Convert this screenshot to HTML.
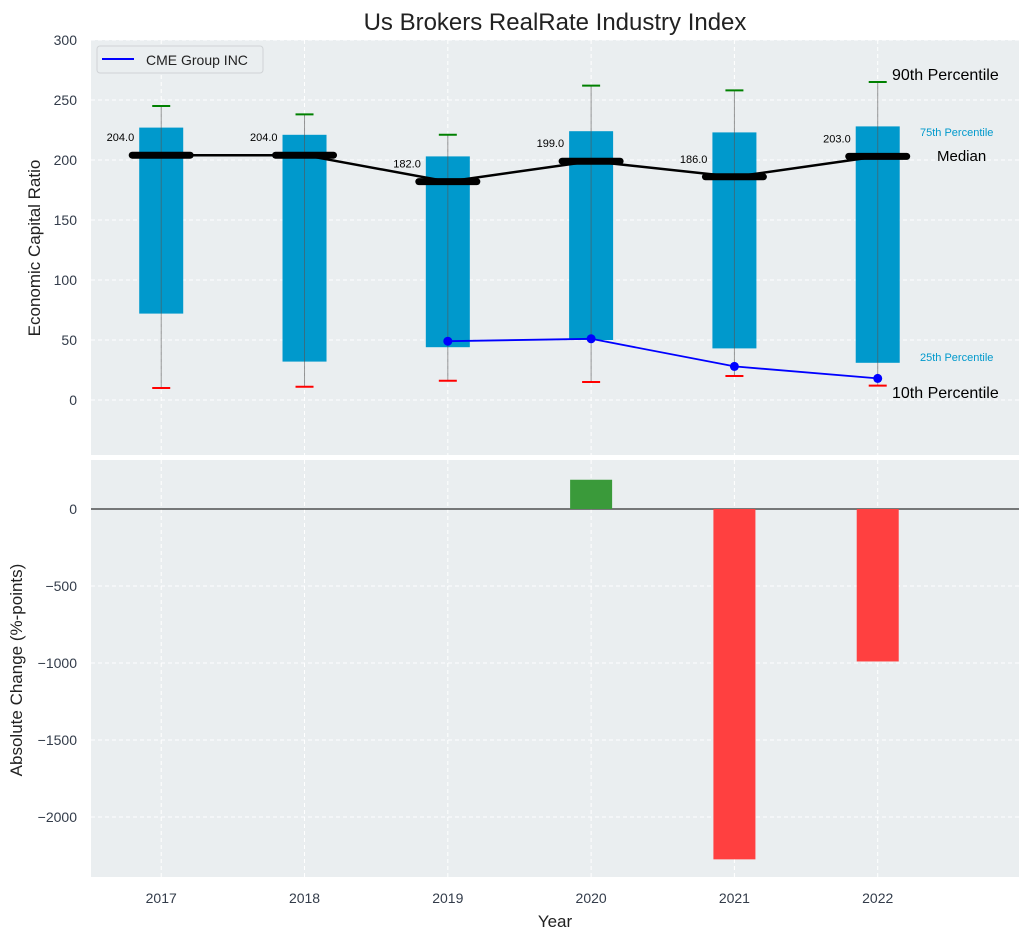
<!DOCTYPE html>
<html><head><meta charset="utf-8"><style>
body{margin:0;background:#fff;font-family:"Liberation Sans",sans-serif}
svg text{font-family:"Liberation Sans",sans-serif}
</style></head><body>
<svg id="c" width="1029" height="940" xmlns="http://www.w3.org/2000/svg"></svg>
<script>
const years=["2017","2018","2019","2020","2021","2022"];
const p10=[10,11,16,15,20,12];
const p25=[72,32,44,50,43,31];
const p75=[227,221,203,224,223,228];
const p90=[245,238,221,262,258,265];
const medians=[204,204,182,199,186,203];
const cme=[null,null,49,51,28,18];
const changes=[0,0,0,190,-2275,-990];
const topTicks=[0,50,100,150,200,250,300];
const botTicks=[0,-500,-1000,-1500,-2000];

const NS="http://www.w3.org/2000/svg";
const svg=document.getElementById('c');
function el(t,a,p){const e=document.createElementNS(NS,t);for(const k in a)e.setAttribute(k,a[k]);(p||svg).appendChild(e);return e;}
const L=91,R=1019;
const x=i=>L+(i+0.49)*143.3;
const yT=v=>400-v*1.2;
const yB=v=>509-v*0.154;
// backgrounds
let e=el('rect',{x:L,y:40,width:R-L,height:415,fill:'#eaeef0'});

e=el('rect',{x:L,y:460,width:R-L,height:417,fill:'#eaeef0'});

// grids
topTicks.forEach(v=>{el('line',{x1:L,x2:R,y1:yT(v),y2:yT(v),stroke:'#fff','stroke-dasharray':'4,3'});
 e=el('text',{x:L-14,y:yT(v)+5,'text-anchor':'end','font-size':14,fill:'#333c4a'});e.textContent=v;
 });
botTicks.forEach(v=>{el('line',{x1:L,x2:R,y1:yB(v),y2:yB(v),stroke:'#fff','stroke-dasharray':'4,3'});
 e=el('text',{x:L-14,y:yB(v)+5,'text-anchor':'end','font-size':14,fill:'#333c4a'});e.textContent=v===0?'0':'\u2212'+(-v);
 });
years.forEach((yr,i)=>{
 el('line',{x1:x(i),x2:x(i),y1:40,y2:455,stroke:'#fff','stroke-dasharray':'4,3'});
 el('line',{x1:x(i),x2:x(i),y1:460,y2:877,stroke:'#fff','stroke-dasharray':'4,3'});
 e=el('text',{x:x(i),y:903,'text-anchor':'middle','font-size':14,fill:'#333c4a'});e.textContent=yr;
 
});
// boxes
years.forEach((yr,i)=>{
 e=el('rect',{x:x(i)-22,y:yT(p75[i]),width:44,height:yT(p25[i])-yT(p75[i]),fill:'#0099cc'});
 
 el('line',{x1:x(i),x2:x(i),y1:yT(p90[i]),y2:yT(p10[i]),stroke:'#555','stroke-width':1,opacity:0.6});
 e=el('line',{x1:x(i)-9,x2:x(i)+9,y1:yT(p90[i]),y2:yT(p90[i]),stroke:'green','stroke-width':2});
 
 e=el('line',{x1:x(i)-9,x2:x(i)+9,y1:yT(p10[i]),y2:yT(p10[i]),stroke:'red','stroke-width':2});
 
});
// median line
e=el('polyline',{points:medians.map((m,i)=>x(i)+','+yT(m)).join(' '),fill:'none',stroke:'#000','stroke-width':2.5});

medians.forEach((m,i)=>{
 e=el('line',{x1:x(i)-29,x2:x(i)+29,y1:yT(m),y2:yT(m),stroke:'#000','stroke-width':7,'stroke-linecap':'round'});
 
 e=el('text',{x:x(i)-27,y:yT(m)-14,'text-anchor':'end','font-size':11,fill:'#000'});e.textContent=m.toFixed(1);
 
});
// CME
const pts=cme.map((v,i)=>v===null?null:[x(i),yT(v)]).filter(p=>p);
e=el('polyline',{points:pts.map(p=>p.join(',')).join(' '),fill:'none',stroke:'#0000ff','stroke-width':1.8});

pts.forEach(p=>{e=el('circle',{cx:p[0],cy:p[1],r:4.5,fill:'#0000ff'});});
// annotations
function txt(t,xx,yy,fs,col,name){const n=el('text',{x:xx,y:yy,'font-size':fs,fill:col});n.textContent=t;}
txt('90th Percentile',892,80,16,'#000','p90-annotation');
txt('75th Percentile',920,136,11,'#0099cc','p75-annotation');
txt('Median',937,161,15,'#000','median-annotation');
txt('25th Percentile',920,361,11,'#0099cc','p25-annotation');
txt('10th Percentile',892,398,16,'#000','p10-annotation');
// legend
e=el('rect',{x:97,y:46,width:166,height:27,rx:3,fill:'#eaeef0',stroke:'#d0d3d6'});

el('line',{x1:102,x2:134,y1:59,y2:59,stroke:'#0000ff','stroke-width':2});
txt('CME Group INC',146,65,14,'#222','legend-entry');
// bottom bars
el('line',{x1:L,x2:R,y1:yB(0),y2:yB(0),stroke:'#000','stroke-width':1});
changes.forEach((v,i)=>{if(!v)return;
 e=el('rect',{x:x(i)-21,y:Math.min(yB(0),yB(v)),width:42,height:Math.abs(yB(v)-yB(0)),fill:v>0?'#3a9a3a':'#ff4040'});
 });
// titles
e=el('text',{x:555,y:30,'text-anchor':'middle','font-size':24,fill:'#222'});e.textContent='Us Brokers RealRate Industry Index';

e=el('text',{x:555,y:927,'text-anchor':'middle','font-size':17,fill:'#222'});e.textContent='Year';

e=el('text',{x:40,y:248,'text-anchor':'middle','font-size':17,fill:'#222',transform:'rotate(-90 40 248)'});e.textContent='Economic Capital Ratio';

e=el('text',{x:22,y:670,'text-anchor':'middle','font-size':17,fill:'#222',transform:'rotate(-90 22 670)'});e.textContent='Absolute Change (%-points)';

</script></body></html>
